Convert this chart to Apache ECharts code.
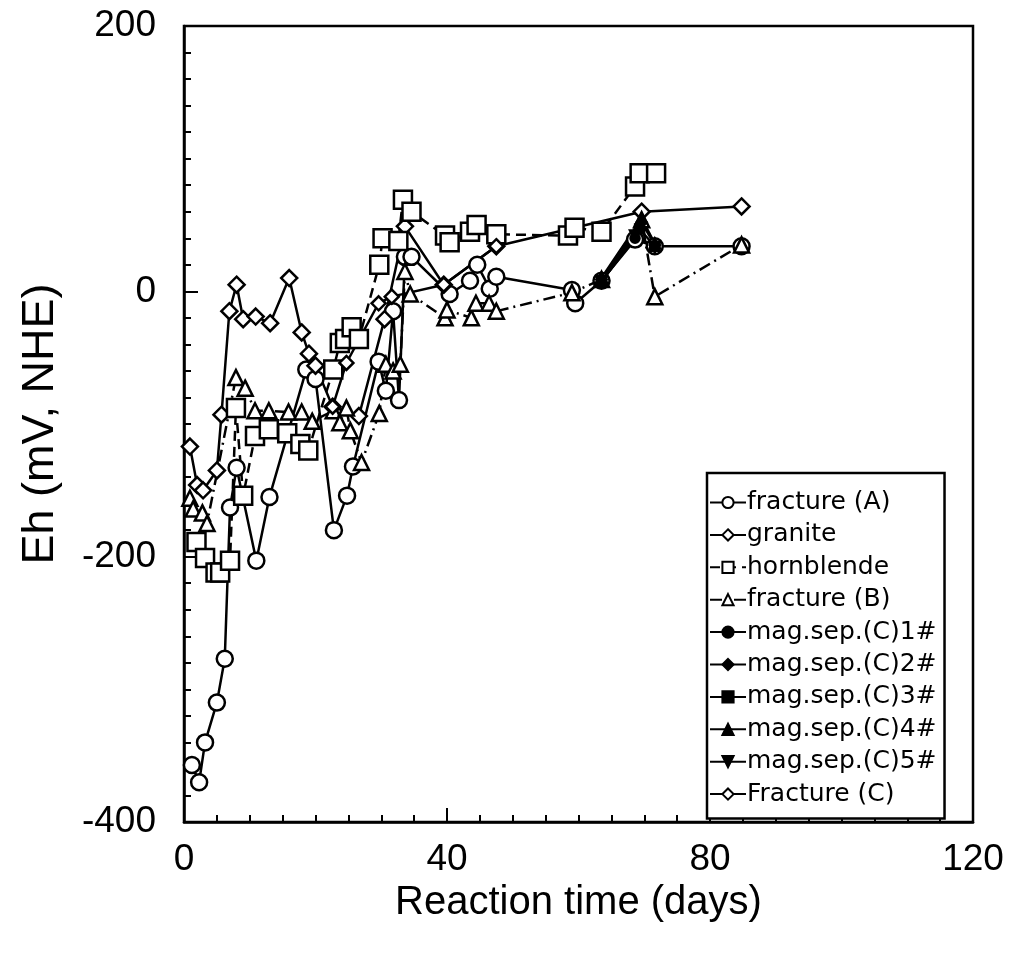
<!DOCTYPE html>
<html><head><meta charset="utf-8">
<script src="https://cdn.jsdelivr.net/npm/echarts@6/dist/echarts.min.js"></script>
<style>html,body{margin:0;padding:0;background:#fff}#c{width:1009px;height:962px}</style>
</head><body><div id="c"></div>
<script>
// ---- data (x = reaction time in days, y = Eh in mV) ----
const xTicks = [0, 40, 80, 120];
const yTicks = [-400, -200, 0, 200];

const fractureA_x = [1.2,2.3,3.2,5,6.2,7,8,11,13,18.6,20,22.8,24.8,25.7,29.6,30.7,31.8,32.7,33.6,34.6,40.4,43.5,44.6,46.5,47.5,59,59.5,63.5,68.6,71.6,84.8];
const fractureA_y = [-357,-370,-340,-310,-277,-163,-133,-203,-155,-59,-66,-180,-154,-132,-53,-75,-15,-82,26,26,-2,8,20,2,11,1,-9,8,39,34,34];

const granite_x = [0.9,2,2.9,5,5.7,6.9,8,9,10.9,13.1,16,17.9,19,20,22.6,26.6,30.5,33.6,39.5,47.5,69.6,84.8];
const granite_y = [-117,-146,-150,-135,-93,-15,5,-21,-19,-24,10,-31,-47,-56,-87,-94,-21,49,5,34,60,64];

const hornblende_x = [1.9,3.2,4.8,5.5,7,7.9,9,10.8,12.9,15.7,17.7,18.9,22.7,23.7,24.5,25.5,26.6,29.7,30.2,32.6,33.3,34.6,39.7,40.4,43.5,44.5,47.5,58.4,59.4,63.5,68.6,69.3,71.8];
const hornblende_y = [-189,-201,-212,-212,-203,-88,-154,-109,-104,-107,-115,-120,-59,-39,-36,-27,-36,20,40,38,69,60,42,37,45,50,43,42,48,45,79,89,89];

const fractureB_x = [0.9,1.4,2.8,3.5,7.9,9.3,10.8,12.9,15.9,17.9,19.5,22.7,23.7,24.7,25.3,27,29.7,30.7,31.8,32.9,33.6,34.4,39.7,40,43.7,44.4,46.4,47.5,59,63.5,69.6,71.6,84.8];
const fractureB_y = [-156,-164,-167,-175,-65,-73,-90,-90,-91,-91,-98,-90,-99,-88,-105,-129,-92,-55,-60,-55,15,-2,-20,-14,-20,-9,-9,-15,-1,9,54,-4,35];

const mag1_x = [63.5,68.6,71.6];
const mag1_y = [8,40,34];
const mag2_x = [63.5,69.6,71.6];
const mag2_y = [9,52,35];
const mag3_x = [63.5,69.3,71.6];
const mag3_y = [8,47,34];
const mag4_x = [63.5,69.6,71.6];
const mag4_y = [10,55,36];
const mag5_x = [63.5,68.6,71.6];
const mag5_y = [7,42,33];

const fractureC_x = [22.6,24.7,29.6,31.6,39.5,47.5];
const fractureC_y = [-87,-54,-9,-4,5,34];

const names = ['fracture (A)','granite','hornblende','fracture (B)','mag.sep.(C)1#','mag.sep.(C)2#','mag.sep.(C)3#','mag.sep.(C)4#','mag.sep.(C)5#','Fracture (C)'];

// ---- build ----
function pairs(xs, ys){ return xs.map((x,i)=>[x, ys[i]]); }
const FONT = '"Liberation Sans", Arial, sans-serif';
function mk(name, xs, ys, symbol, size, lineType, filled, lw){
  return {
    name, type:'line', data: pairs(xs, ys), symbol, symbolSize: size,
    lineStyle:{color:'#000', width: lw, type: lineType},
    itemStyle:{color: filled ? '#000' : '#fff', borderColor:'#000', borderWidth: 2.5},
    emphasis:{disabled:true}, z: 3
  };
}
const series = [
  mk(names[0], fractureA_x, fractureA_y, 'circle', 16, 'solid', false, 2.5),
  mk(names[1], granite_x, granite_y, 'diamond', 16, 'solid', false, 2.5),
  mk(names[2], hornblende_x, hornblende_y, 'rect', 18, [10,6], false, 2.5),
  mk(names[3], fractureB_x, fractureB_y, 'triangle', 15, [12,5,2,5], false, 2.5),
  mk(names[4], mag1_x, mag1_y, 'circle', 9, 'solid', true, 2.5),
  mk(names[5], mag2_x, mag2_y, 'diamond', 10, 'solid', true, 2.5),
  mk(names[6], mag3_x, mag3_y, 'rect', 9, 'solid', true, 2.5),
  mk(names[7], mag4_x, mag4_y, 'triangle', 10, 'solid', true, 2.5),
  mk(names[8], mag5_x, mag5_y, 'path://M0,0 L10,0 L5,10 Z', 10, 'solid', true, 2.5),
  mk(names[9], fractureC_x, fractureC_y, 'diamond', 14, 'solid', false, 2.5)
];

const chart = echarts.init(document.getElementById('c'), null, {renderer:'canvas'});
chart.setOption({
  backgroundColor:'#fff',
  animation:false,
  grid:{left:184, top:26, width:789, height:796, show:true, borderColor:'#000', borderWidth:2.5, backgroundColor:'transparent'},
  xAxis:{
    type:'value', min:xTicks[0], max:xTicks[xTicks.length-1], interval:40,
    name:'Reaction time (days)', nameLocation:'middle', nameGap:58,
    nameTextStyle:{fontFamily:FONT, fontSize:40, color:'#000'},
    axisLine:{show:true, onZero:false, lineStyle:{color:'#000', width:2.5}},
    axisTick:{show:true, inside:true, length:14, lineStyle:{color:'#000', width:2}},
    minorTick:{show:true, splitNumber:8, length:7, lineStyle:{color:'#000', width:2}},
    axisLabel:{fontFamily:FONT, fontSize:37, color:'#000', margin:19},
    splitLine:{show:false}
  },
  yAxis:{
    type:'value', min:yTicks[0], max:yTicks[yTicks.length-1], interval:200,
    name:'Eh (mV, NHE)', nameLocation:'middle', nameGap:121,
    nameTextStyle:{fontFamily:FONT, fontSize:45, color:'#000'},
    axisLine:{show:true, onZero:false, lineStyle:{color:'#000', width:2.5}},
    axisTick:{show:true, inside:true, length:14, lineStyle:{color:'#000', width:2}},
    minorTick:{show:true, splitNumber:10, length:7, lineStyle:{color:'#000', width:2}},
    axisLabel:{fontFamily:FONT, fontSize:37, color:'#000', margin:28},
    splitLine:{show:false}
  },
  legend:{
    data: names, orient:'vertical', left:707, top:473,
    backgroundColor:'#fff', borderColor:'#000', borderWidth:2.5,
    padding:[17,8,12,2], itemGap:7.4, itemWidth:36, itemHeight:14,
    textStyle:{fontFamily:'"DejaVu Sans", sans-serif', fontSize:25, lineHeight:25, color:'#000', padding:[0,0,0,-4]},
    selectedMode:false, z:10
  },
  series
});
</script></body></html>
